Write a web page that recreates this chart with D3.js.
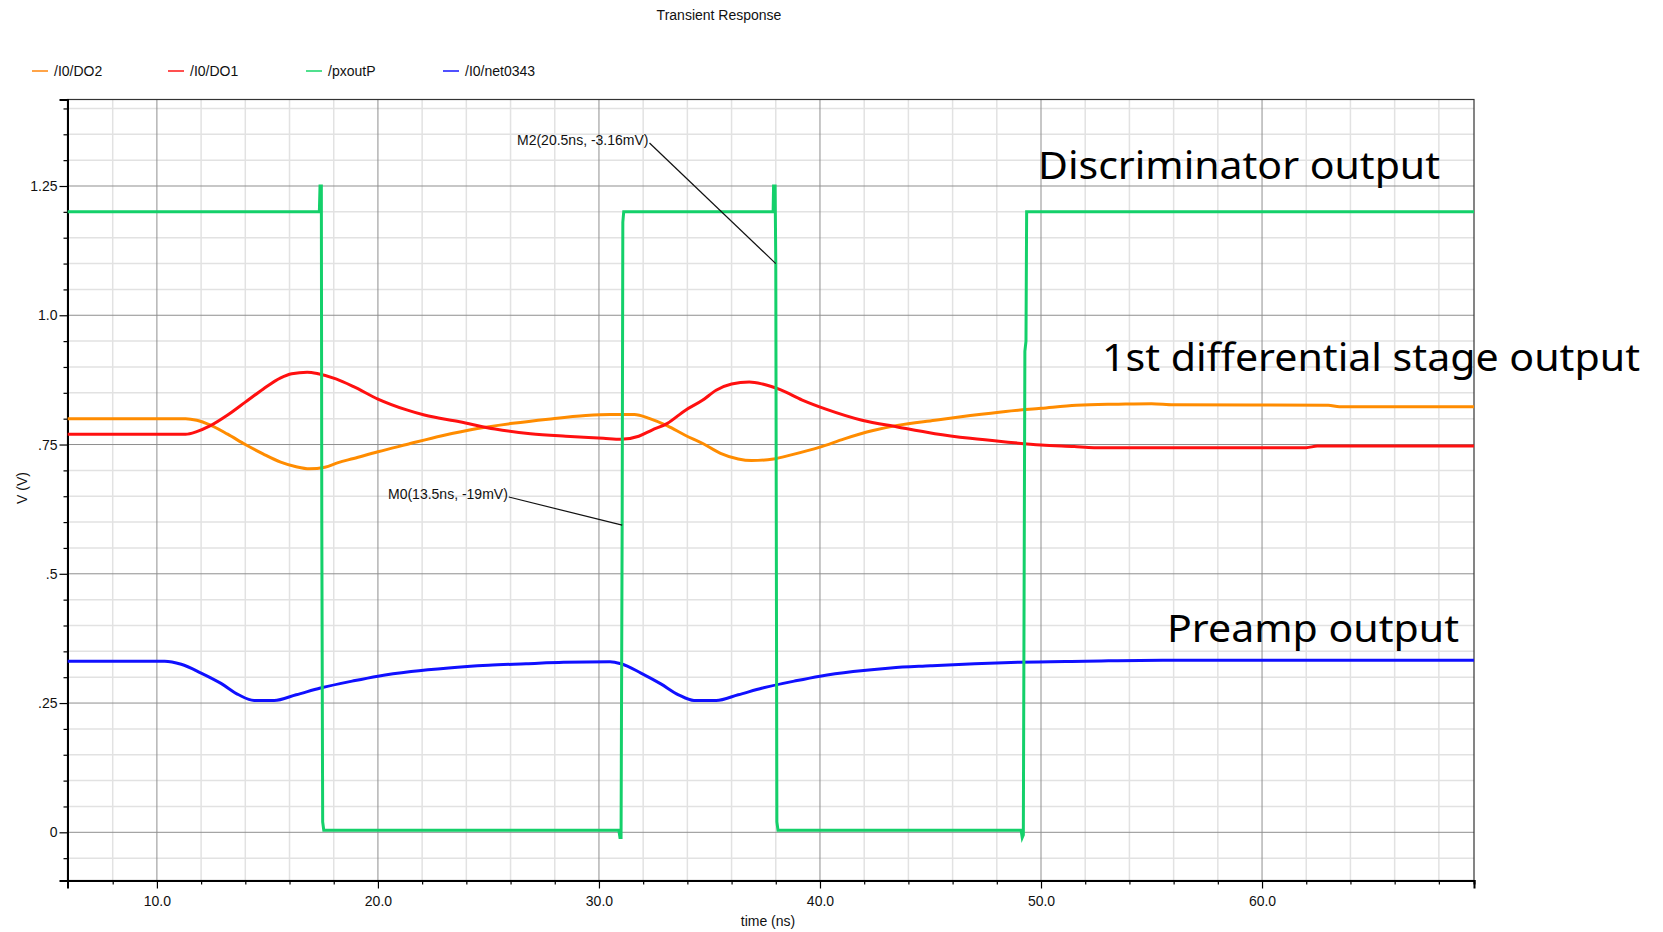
<!DOCTYPE html>
<html>
<head>
<meta charset="utf-8">
<script src="https://cdn.jsdelivr.net/npm/d3@7"></script>
<style>
  html, body { margin: 0; padding: 0; background: #fff; }
  svg { display: block; }
  .small { font-family: "Liberation Sans", Arial, sans-serif; font-size: 14px; fill: #111; }
  .big { font-family: "Noto Sans", "Open Sans", sans-serif; font-size: 38px; fill: #000; }
</style>
</head>
<body>
<svg id="chart" width="1663" height="932"></svg>
<script>
// Transient simulation: time in ns, voltage in V
const do2Time = [5.95, 11.3, 11.8, 12.4, 13.2, 14.0, 14.8, 15.6, 16.3, 16.9, 17.6, 18.2, 18.9, 20.0, 21.3, 22.9, 24.5, 26.1, 27.7, 29.4, 30.5, 31.6, 32.3, 33.1, 33.9, 34.7, 35.5, 36.3, 36.9, 37.9, 38.7, 40.0, 41.1, 42.4, 43.5, 45.2, 46.8, 48.4, 50.0, 51.6, 53.5, 55.0, 56.0, 63.0, 63.5, 69.6];
const do2Volts = [0.800, 0.800, 0.797, 0.788, 0.770, 0.750, 0.732, 0.716, 0.707, 0.703, 0.706, 0.715, 0.723, 0.736, 0.750, 0.767, 0.781, 0.791, 0.799, 0.806, 0.808, 0.808, 0.800, 0.786, 0.768, 0.752, 0.733, 0.722, 0.719, 0.722, 0.730, 0.745, 0.761, 0.777, 0.787, 0.797, 0.806, 0.814, 0.820, 0.826, 0.828, 0.829, 0.827, 0.826, 0.823, 0.823];

const do1Time = [5.95, 11.3, 11.8, 12.4, 13.2, 14.0, 14.8, 15.6, 16.1, 16.8, 17.3, 18.1, 18.9, 20.0, 21.3, 22.1, 23.7, 25.3, 26.9, 28.5, 30.2, 31.0, 31.8, 32.4, 33.1, 33.9, 34.7, 35.3, 36.0, 36.8, 37.4, 38.2, 39.2, 40.3, 41.9, 43.5, 45.2, 46.8, 48.4, 50.0, 51.5, 52.4, 62.0, 62.5, 69.6];
const do1Volts = [0.770, 0.770, 0.775, 0.786, 0.807, 0.832, 0.857, 0.879, 0.887, 0.890, 0.887, 0.877, 0.862, 0.838, 0.817, 0.807, 0.794, 0.780, 0.771, 0.766, 0.762, 0.760, 0.766, 0.778, 0.791, 0.816, 0.836, 0.855, 0.867, 0.871, 0.867, 0.856, 0.836, 0.818, 0.797, 0.784, 0.771, 0.762, 0.755, 0.749, 0.746, 0.744, 0.744, 0.747, 0.747];

const pxoutTime = [5.95, 17.35, 17.38, 17.44, 17.46, 17.5, 17.55, 30.9, 30.95, 31.0, 31.05, 31.08, 31.12, 37.88, 37.9, 37.97, 38.0, 38.05, 38.1, 49.1, 49.15, 49.2, 49.27, 49.32, 49.35, 69.6];
const pxoutVolts = [1.2, 1.2, 1.25, 1.25, 0.6, 0.02, 0.004, 0.004, -0.01, -0.01, 0.6, 1.18, 1.2, 1.2, 1.25, 1.25, 1.1, 0.02, 0.004, 0.004, -0.01, -0.005, 0.93, 0.95, 1.2, 1.2];

const net0343Time = [5.95, 10.35, 11.1, 12.0, 12.9, 13.7, 14.4, 15.3, 16.3, 17.4, 18.9, 20.0, 21.5, 23.2, 25.0, 26.7, 28.4, 30.5, 31.0, 31.9, 32.8, 33.6, 34.3, 35.3, 36.3, 37.4, 38.9, 40.0, 41.5, 43.2, 45.0, 47.0, 49.0, 52.0, 55.5, 69.6];
const net0343Volts = [0.331, 0.331, 0.325, 0.308, 0.288, 0.266, 0.255, 0.255, 0.266, 0.279, 0.293, 0.302, 0.311, 0.318, 0.323, 0.326, 0.329, 0.330, 0.326, 0.308, 0.287, 0.266, 0.255, 0.255, 0.266, 0.279, 0.293, 0.302, 0.311, 0.318, 0.322, 0.326, 0.329, 0.331, 0.333, 0.333];

const seriesNames = ["/I0/DO2", "/I0/DO1", "/pxoutP", "/I0/net0343"];
const seriesColors = ["#ff8c00", "#ff1010", "#14d06a", "#1010ff"];
const legendColors = ["#ffa448", "#ff5050", "#50e08e", "#5050ff"];

const xMajorTicks = [10, 20, 30, 40, 50, 60];
const xTickLabels = ["10.0", "20.0", "30.0", "40.0", "50.0", "60.0"];
const yMajorTicks = [0, 0.25, 0.5, 0.75, 1.0, 1.25];
const yTickLabels = ["0", ".25", ".5", ".75", "1.0", "1.25"];

// marker annotations: [label, time, voltage]
const markerLabels = ["M2(20.5ns, -3.16mV)", "M0(13.5ns, -19mV)"];
const markerTimes = [38.0, 31.05];
const markerVolts = [1.1, 0.594];

const stageLabels = ["Discriminator output", "1st differential stage output", "Preamp output"];

const svg = d3.select("#chart");
const plot = { left: 67.5, right: 1474, top: 99.5, bottom: 880.5 };

const x = d3.scaleLinear().domain([5.955, 69.59]).range([plot.left, plot.right]);
const y = d3.scaleLinear().domain([-0.0932, 1.4173]).range([plot.bottom, plot.top]);

// minor / major grids
const xMinor = d3.range(8, 69, 2).filter(t => t % 10 !== 0);
const yMinor = d3.range(-0.05, 1.42, 0.05).map(v => +v.toFixed(2)).filter(v => Math.abs(v / 0.25 - Math.round(v / 0.25)) > 1e-6);

const grid = svg.append("g");
grid.selectAll(".vmin").data(xMinor).join("line")
  .attr("x1", d => x(d)).attr("x2", d => x(d))
  .attr("y1", plot.top).attr("y2", plot.bottom)
  .attr("stroke", "#e2e2e2").attr("stroke-width", 1.5);
grid.selectAll(".hmin").data(yMinor).join("line")
  .attr("x1", plot.left).attr("x2", plot.right)
  .attr("y1", d => y(d)).attr("y2", d => y(d))
  .attr("stroke", "#e2e2e2").attr("stroke-width", 1.5);
grid.selectAll(".vmaj").data(xMajorTicks).join("line")
  .attr("x1", d => x(d)).attr("x2", d => x(d))
  .attr("y1", plot.top).attr("y2", plot.bottom)
  .attr("stroke", "#8f8f8f").attr("stroke-width", 1);
grid.selectAll(".hmaj").data(yMajorTicks).join("line")
  .attr("x1", plot.left).attr("x2", plot.right)
  .attr("y1", d => y(d)).attr("y2", d => y(d))
  .attr("stroke", "#8f8f8f").attr("stroke-width", 1);

// frame
svg.append("rect")
  .attr("x", plot.left).attr("y", plot.top)
  .attr("width", plot.right - plot.left).attr("height", plot.bottom - plot.top)
  .attr("fill", "none").attr("stroke", "#333").attr("stroke-width", 1.2);

// axes
const xAxisMajor = d3.axisBottom(x).tickValues(xMajorTicks)
  .tickFormat((d, i) => xTickLabels[i]).tickSize(8).tickPadding(8);
const xAxisMinor = d3.axisBottom(x).tickValues(xMinor).tickFormat("").tickSize(4);
const yAxisMajor = d3.axisLeft(y).tickValues(yMajorTicks)
  .tickFormat((d, i) => yTickLabels[i]).tickSize(8).tickPadding(2);
const yAxisMinor = d3.axisLeft(y).tickValues(yMinor).tickFormat("").tickSize(4);

function styleAxis(g) {
  g.select(".domain").attr("stroke", "#000").attr("stroke-width", 2);
  g.selectAll(".tick line").attr("stroke", "#000").attr("stroke-width", 1.2);
  g.selectAll("text").attr("class", "small").attr("font-size", null).attr("font-family", null).attr("fill", "#111");
}
svg.append("g").attr("transform", `translate(0,${plot.bottom})`).call(xAxisMinor).call(styleAxis);
svg.append("g").attr("transform", `translate(0,${plot.bottom})`).call(xAxisMajor).call(styleAxis);
svg.append("g").attr("transform", `translate(${plot.left},0)`).call(yAxisMinor).call(styleAxis);
svg.append("g").attr("transform", `translate(${plot.left},0)`).call(yAxisMajor).call(styleAxis);

svg.append("text").attr("class", "small")
  .attr("x", 768).attr("y", 926).attr("text-anchor", "middle").text("time (ns)");
svg.append("text").attr("class", "small")
  .attr("transform", "translate(27,488) rotate(-90)")
  .attr("text-anchor", "middle").text("V (V)");

svg.append("text").attr("class", "small")
  .attr("x", 719).attr("y", 20).attr("text-anchor", "middle").text("Transient Response");

// legend
const legendX = [32, 168, 306, 443];
const legend = svg.append("g");
seriesNames.forEach((name, i) => {
  legend.append("line")
    .attr("x1", legendX[i]).attr("x2", legendX[i] + 16)
    .attr("y1", 71).attr("y2", 71)
    .attr("stroke", legendColors[i]).attr("stroke-width", 2);
  legend.append("text").attr("class", "small")
    .attr("x", legendX[i] + 22).attr("y", 76).text(name);
});

// waveforms: analog nodes smoothed, the digital output kept piecewise linear
const smoothLine = d3.line().x(d => x(d[0])).y(d => y(d[1])).curve(d3.curveMonotoneX);
const sharpLine = d3.line().x(d => x(d[0])).y(d => y(d[1]));
const traces = [
  d3.zip(do2Time, do2Volts),
  d3.zip(do1Time, do1Volts),
  d3.zip(pxoutTime, pxoutVolts),
  d3.zip(net0343Time, net0343Volts)
];
const drawOrder = [3, 0, 1, 2];
const clipId = "plotClip";
svg.append("clipPath").attr("id", clipId).append("rect")
  .attr("x", plot.left).attr("y", plot.top)
  .attr("width", plot.right - plot.left).attr("height", plot.bottom - plot.top);
const traceG = svg.append("g").attr("clip-path", `url(#${clipId})`);
drawOrder.forEach(i => {
  traceG.append("path")
    .attr("d", (i === 2 ? sharpLine : smoothLine)(traces[i]))
    .attr("fill", "none")
    .attr("stroke", seriesColors[i])
    .attr("stroke-width", 3)
    .attr("stroke-linejoin", "miter");
});

// marker leaders and labels
const markerTextPos = [[517, 145], [388, 499]];
markerLabels.forEach((label, i) => {
  const t = svg.append("text").attr("class", "small").attr("font-size", "13px")
    .attr("x", markerTextPos[i][0]).attr("y", markerTextPos[i][1]).text(label);
  const bb = t.node().getBBox();
  svg.append("line")
    .attr("x1", bb.x + bb.width + 1).attr("y1", markerTextPos[i][1] - 2)
    .attr("x2", x(markerTimes[i])).attr("y2", y(markerVolts[i]))
    .attr("stroke", "#111").attr("stroke-width", 1.2);
});

// stage annotations
const stagePos = [[1038, 179, 402], [1102, 371, 538], [1167, 642, 292]];
stageLabels.forEach((label, i) => {
  svg.append("text").attr("class", "big")
    .attr("x", stagePos[i][0]).attr("y", stagePos[i][1])
    .attr("textLength", stagePos[i][2]).attr("lengthAdjust", "spacingAndGlyphs")
    .text(label);
});
</script>
</body>
</html>
